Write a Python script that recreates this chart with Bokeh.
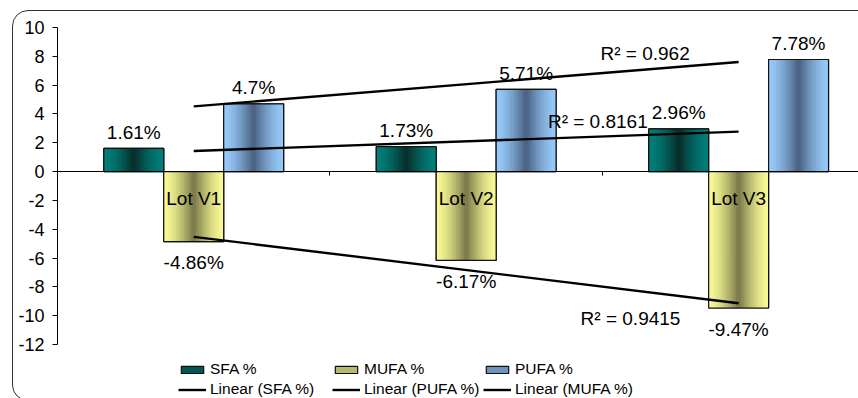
import numpy as np
from bokeh.plotting import figure
from bokeh.models import (ColumnDataSource, FixedTicker, Legend, LegendItem,
                          Range1d, InlineStyleSheet)
from bokeh.embed import file_html
from bokeh.resources import INLINE
from bokeh.core.properties import value

# ---- data ----
lots = ["Lot V1", "Lot V2", "Lot V3"]
sfa = [1.61, 1.73, 2.96]
mufa = [-4.86, -6.17, -9.47]
pufa = [4.70, 5.71, 7.78]
y_ticks = [-12, -10, -8, -6, -4, -2, 0, 2, 4, 6, 8, 10]

FONT = "Liberation Sans"
BAR_W = 0.22
N_STRIPS = 24

# name, values, offset in category, edge colour, centre colour
series = [
    ("SFA %", sfa, -BAR_W, (0, 128, 124), (8, 44, 40)),
    ("MUFA %", mufa, 0.0, (250, 250, 150), (118, 118, 72)),
    ("PUFA %", pufa, BAR_W, (150, 202, 250), (72, 94, 126)),
]

xpos = np.arange(1, len(lots) + 1, dtype=float)

p = figure(width=858, height=398,
           x_range=Range1d(0.5, 3.44), y_range=Range1d(-15.75, 10),
           x_axis_location="above",
           output_backend="svg", toolbar_location=None,
           min_border_left=57, min_border_top=27,
           min_border_bottom=0, min_border_right=0)
p.outline_line_color = None
p.xgrid.grid_line_color = None
p.ygrid.grid_line_color = None
p.background_fill_color = "white"
p.border_fill_color = "white"

# rounded frame around the whole chart
p.stylesheets = [InlineStyleSheet(css=(
    ":host{position:relative;overflow:hidden;}"
    ":host::after{content:'';position:absolute;left:12px;top:10px;"
    "width:900px;height:391px;border:1.6px solid #333;border-radius:16px;"
    "box-sizing:border-box;pointer-events:none;z-index:10;}"
))]


def hexcol(c):
    return "#%02x%02x%02x" % tuple(int(round(v)) for v in c)


# bars: a plain bar (used by the legend), a centre-dark gradient made of
# thin strips on top of it, and the black outline last
bars = {}
for name, vals, off, edge, centre in series:
    mid = [e + (c - e) * 0.5 for e, c in zip(edge, centre)]
    bars[name] = p.vbar(x=xpos + off, width=BAR_W, top=vals, bottom=0,
                        fill_color=hexcol(mid), line_color="#111111",
                        line_width=1.2)
    L, R, T, B, C = [], [], [], [], []
    for xc, v in zip(xpos, vals):
        xl = xc + off - BAR_W / 2
        w = BAR_W / N_STRIPS
        for k in range(N_STRIPS):
            u = (k + 0.5) / N_STRIPS
            t = (1 - abs(2 * u - 1)) ** 1.5
            col = [e + (c - e) * t for e, c in zip(edge, centre)]
            L.append(xl + k * w)
            R.append(min(xl + (k + 1.4) * w, xl + BAR_W))
            T.append(max(v, 0))
            B.append(min(v, 0))
            C.append(hexcol(col))
    p.quad(left=L, right=R, top=T, bottom=B, fill_color=C, line_color=None)
    p.vbar(x=xpos + off, width=BAR_W, top=vals, bottom=0,
           fill_color=None, line_color="#111111", line_width=1.2)

# linear trend lines with R^2
trend = {}
r2_pos = {"SFA %": (2.30, 3.47), "PUFA %": (2.493, 8.19), "MUFA %": (2.42, -10.2)}
for name, vals, off, edge, centre in series:
    y = np.array(vals)
    k, b = np.polyfit(xpos, y, 1)
    fit = k * xpos + b
    r2 = 1 - np.sum((y - fit) ** 2) / np.sum((y - y.mean()) ** 2)
    trend[name] = p.line(x=[xpos[0], xpos[-1]], y=[fit[0], fit[-1]],
                         line_color="black", line_width=2.4)
    tx, ty = r2_pos[name]
    p.text(x=[tx], y=[ty], text=["R\u00b2 = %s" % ("%.4g" % r2)],
           text_font=value(FONT), text_font_size="19px", text_color="black",
           text_align="left", text_baseline="middle")

# value labels
for name, vals, off, edge, centre in series:
    src = ColumnDataSource(dict(
        x=xpos + off, y=vals,
        t=["%g%%" % v for v in vals],
        dy=[-16 if v >= 0 else 21 for v in vals],
    ))
    p.text(x="x", y="y", text="t", y_offset="dy", source=src,
           text_font=value(FONT), text_font_size="19px", text_color="black",
           text_align="center", text_baseline="middle")

# category names just under the zero line
p.text(x=xpos, y=[0] * len(lots), text=lots, y_offset=27,
       text_font=value(FONT), text_font_size="19px", text_color="black",
       text_align="center", text_baseline="middle")

# axes
xa = p.xaxis[0]
xa.fixed_location = 0
xa.ticker = FixedTicker(ticks=list(xpos), minor_ticks=[0.5, 1.5, 2.5, 3.5])
xa.major_label_overrides = {int(x): "" for x in xpos}
xa.major_label_text_font_size = "0px"
xa.major_label_standoff = 0
xa.major_tick_out = 0
xa.major_tick_in = 0
xa.minor_tick_out = 0
xa.minor_tick_in = 4
xa.minor_tick_line_color = "black"
xa.axis_line_color = "black"

ya = p.yaxis[0]
ya.bounds = (-12, 10)
ya.ticker = FixedTicker(ticks=y_ticks, minor_ticks=[])
ya.major_label_overrides = {t: str(t) for t in y_ticks}
ya.major_tick_out = 5
ya.major_tick_in = 0
ya.major_tick_line_color = "black"
ya.axis_line_color = "black"
ya.major_label_standoff = 8
ya.major_label_text_font = FONT
ya.major_label_text_font_size = "18px"
ya.major_label_text_color = "black"

# legend in three columns
columns = [
    ("SFA %", "Linear (SFA %)", "SFA %", 121),
    ("MUFA %", "Linear (PUFA %)", "PUFA %", 275),
    ("PUFA %", "Linear (MUFA %)", "MUFA %", 426),
]
for bar_name, line_label, line_key, xloc in columns:
    leg = Legend(items=[LegendItem(label=bar_name, renderers=[bars[bar_name]]),
                        LegendItem(label=line_label, renderers=[trend[line_key]])],
                 location=(xloc, 0), orientation="vertical",
                 glyph_width=28, glyph_height=9, label_height=14,
                 label_standoff=4, spacing=2, padding=0, margin=0,
                 border_line_color=None, background_fill_color=None,
                 label_text_font=FONT, label_text_font_size="15.5px",
                 label_text_color="black")
    p.add_layout(leg, "center")

open("out.html", "w").write(file_html(p, INLINE))
